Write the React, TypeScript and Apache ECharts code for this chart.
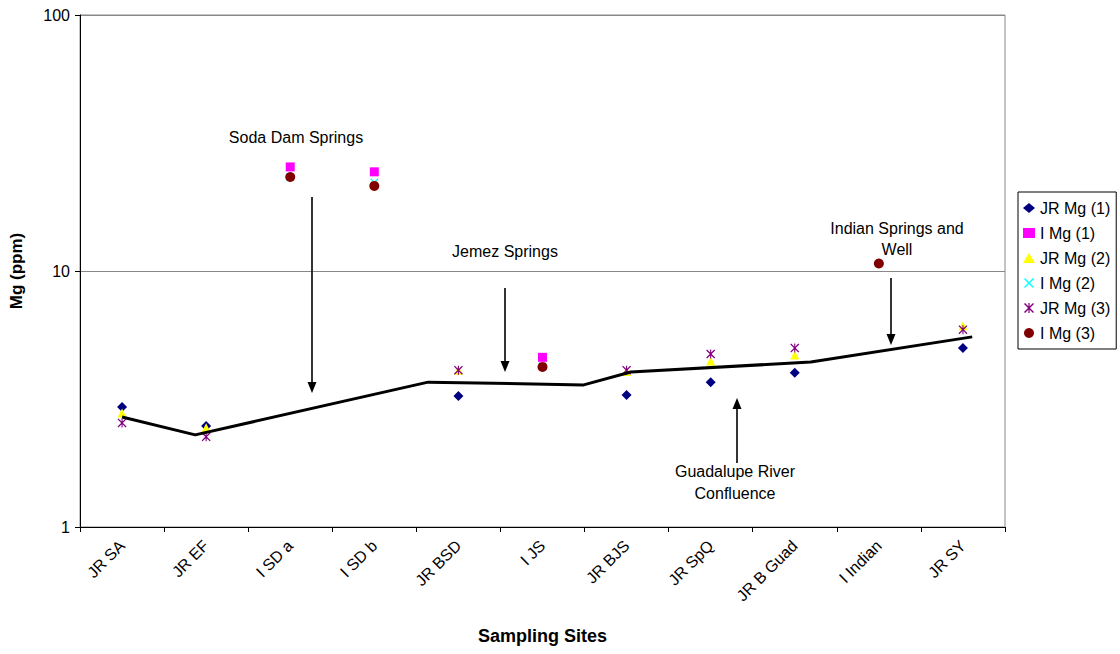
import React, { useEffect, useRef } from "react";
import * as echarts from "echarts";

// Sampling sites along the Jemez River and its inflows
const categories = [
  "JR SA",
  "JR EF",
  "I SD a",
  "I SD b",
  "JR BSD",
  "I JS",
  "JR BJS",
  "JR SpQ",
  "JR B Guad",
  "I Indian",
  "JR SY",
];

// Mg concentrations (ppm) for three sampling rounds; JR = river, I = inflow
const jrMg1 = [2.94, 2.48, null, null, 3.25, null, 3.28, 3.68, 4.0, null, 5.0];
const iMg1 = [null, null, 25.5, 24.4, null, 4.6, null, null, null, null, null];
const jrMg2 = [2.79, 2.44, null, null, 4.1, null, 4.05, 4.45, 4.7, null, 6.1];
const iMg2 = [null, null, 23.3, 22.2, null, 4.25, null, null, null, null, null];
const jrMg3 = [2.55, 2.25, null, null, 4.1, null, 4.1, 4.74, 5.0, null, 5.9];
const iMg3 = [null, null, 23.3, 21.5, null, 4.22, null, null, null, 10.7, null];

// Hand-drawn river trend: position along the site axis (0..11) and Mg (ppm)
const trendPos = [0.5, 1.37, 4.14, 5.99, 6.55, 8.69, 10.61];
const trendVal = [2.69, 2.29, 3.68, 3.59, 4.03, 4.41, 5.53];

const yTicks = [1, 10, 100];

const FONT = '"Liberation Sans", Arial, sans-serif';

// Filled marker outlines
const CROSS =
  "path://M0,1 L1,0 L5,4 L9,0 L10,1 L6,5 L10,9 L9,10 L5,6 L1,10 L0,9 L4,5 Z";
const STAR =
  "path://M0,1 L1,0 L5,4 L9,0 L10,1 L6,5 L10,9 L9,10 L5,6 L1,10 L0,9 L4,5 Z M4.4,0 L5.6,0 L5.6,10 L4.4,10 Z";

function arrow(x: number, y1: number, y2: number) {
  const dir = y2 > y1 ? 1 : -1;
  const head = 11;
  return [
    {
      type: "line",
      shape: { x1: x, y1, x2: x, y2: y2 - dir * head + dir * 1 },
      style: { stroke: "#000", lineWidth: 1.6 },
      z: 100,
    },
    {
      type: "polygon",
      shape: {
        points: [
          [x - 4.5, y2 - dir * head],
          [x + 4.5, y2 - dir * head],
          [x, y2],
        ],
      },
      style: { fill: "#000" },
      z: 100,
    },
  ];
}

function label(text: string, x: number, y: number) {
  return {
    type: "text",
    x,
    y,
    style: {
      text,
      fill: "#000",
      font: `16px ${FONT}`,
      textAlign: "center",
      textVerticalAlign: "middle",
    },
    z: 100,
  };
}

export default function App() {
  const ref = useRef<HTMLDivElement>(null);

  useEffect(() => {
    document.body.style.margin = "0";
    if (!ref.current) return;
    const chart = echarts.init(ref.current, null, { renderer: "svg" });

    const scatter = (
      name: string,
      data: (number | null)[],
      symbol: string,
      size: number,
      color: string
    ) => ({
      name,
      type: "scatter",
      xAxisIndex: 0,
      yAxisIndex: 0,
      data,
      symbol,
      symbolSize: size,
      itemStyle: { color, opacity: 1 },
      z: 3,
    });

    chart.setOption({
      animation: false,
      backgroundColor: "#fff",
      textStyle: { fontFamily: FONT },
      grid: {
        left: 80,
        right: 115,
        top: 15,
        bottom: 127,
        show: true,
        borderColor: "#888",
        borderWidth: 1,
        backgroundColor: "transparent",
      },
      legend: {
        orient: "vertical",
        left: 1018,
        top: 192,
        padding: [8, 6, 8, 5],
        itemWidth: 12,
        itemHeight: 10,
        itemGap: 9,
        borderColor: "#000",
        borderWidth: 1,
        textStyle: { fontSize: 16, color: "#000", fontFamily: FONT, lineHeight: 16 },
        data: ["JR Mg (1)", "I Mg (1)", "JR Mg (2)", "I Mg (2)", "JR Mg (3)", "I Mg (3)"],
      },
      xAxis: [
        {
          type: "category",
          data: categories,
          boundaryGap: true,
          axisLine: { show: true, lineStyle: { color: "#000", width: 1 } },
          axisTick: { show: true, length: 5, interval: 0, lineStyle: { color: "#000" } },
          axisLabel: {
            interval: 0,
            rotate: 45,
            fontSize: 16,
            color: "#000",
            margin: 16,
            fontFamily: FONT,
          },
          splitLine: { show: false },
          name: "Sampling Sites",
          nameLocation: "middle",
          nameGap: 100,
          nameTextStyle: { fontSize: 18, fontWeight: "bold", color: "#000", fontFamily: FONT },
        },
        {
          type: "value",
          min: 0,
          max: categories.length,
          show: false,
        },
      ],
      yAxis: {
        type: "log",
        logBase: 10,
        min: yTicks[0],
        max: yTicks[yTicks.length - 1],
        axisLine: { show: true, lineStyle: { color: "#000", width: 1 } },
        axisTick: { show: true, length: 5, lineStyle: { color: "#000" } },
        minorTick: { show: false },
        axisLabel: { fontSize: 16, color: "#000", margin: 10, fontFamily: FONT },
        splitLine: { show: true, lineStyle: { color: "#888", width: 1 } },
        name: "Mg (ppm)",
        nameLocation: "middle",
        nameRotate: 90,
        nameGap: 55,
        nameTextStyle: { fontSize: 17, fontWeight: "bold", color: "#000", fontFamily: FONT },
      },
      series: [
        scatter("JR Mg (1)", jrMg1, "diamond", 10, "#000080"),
        scatter("I Mg (1)", iMg1, "rect", 9, "#FF00FF"),
        scatter("JR Mg (2)", jrMg2, "triangle", 9, "#FFFF00"),
        scatter("I Mg (2)", iMg2, CROSS, 8, "#00FFFF"),
        scatter("JR Mg (3)", jrMg3, STAR, 9, "#800080"),
        scatter("I Mg (3)", iMg3, "circle", 10, "#800000"),
        {
          name: "trend",
          type: "line",
          xAxisIndex: 1,
          yAxisIndex: 0,
          data: trendPos.map((p, i) => [p, trendVal[i]]),
          showSymbol: false,
          symbol: "none",
          lineStyle: { color: "#000", width: 3 },
          z: 4,
          silent: true,
        },
      ],
      graphic: [
        label("Soda Dam Springs", 296, 137),
        ...arrow(312, 197, 393),
        label("Jemez Springs", 505, 251),
        ...arrow(505, 288, 372),
        label("Guadalupe River", 735, 471),
        label("Confluence", 735, 493),
        ...arrow(737, 463, 398),
        label("Indian Springs and", 897, 228),
        label("Well", 897, 249),
        ...arrow(891, 278, 345),
      ],
    });

    return () => chart.dispose();
  }, []);

  return <div ref={ref} style={{ width: 1120, height: 654 }} />;
}
